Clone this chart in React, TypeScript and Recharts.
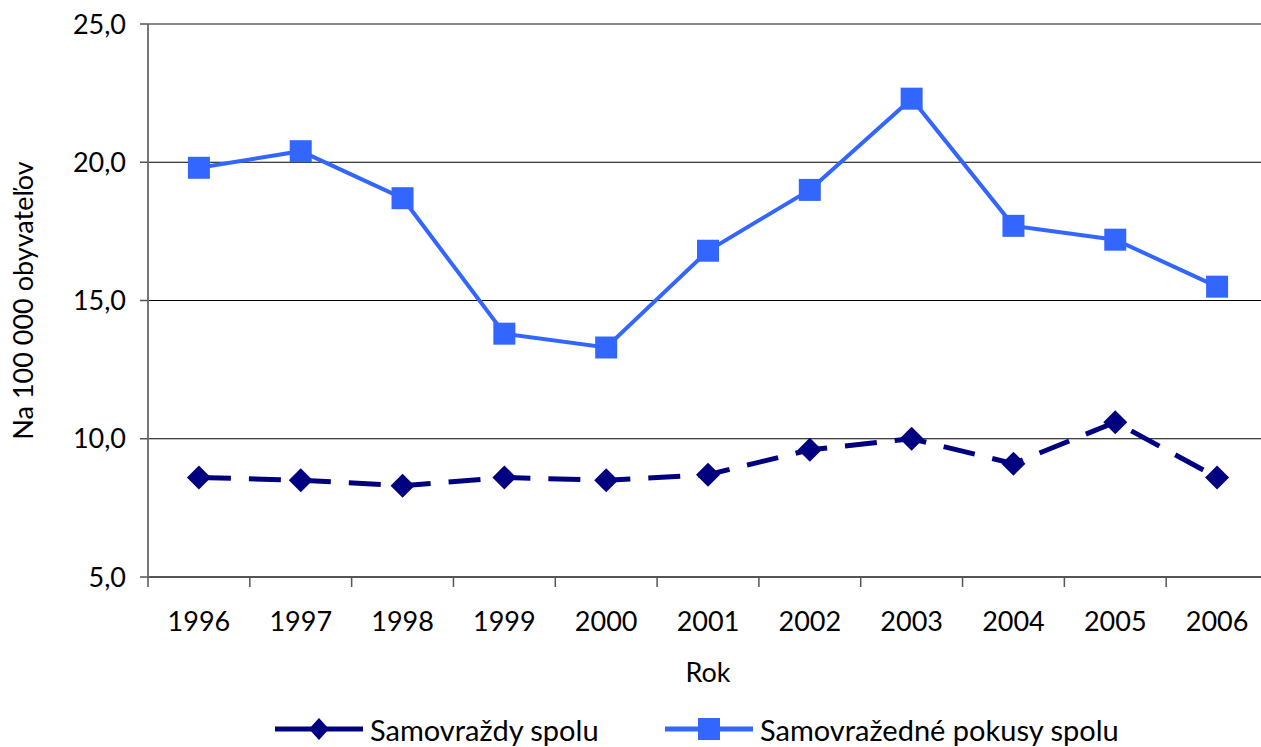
import React from 'react';
import {
  LineChart, Line, XAxis, YAxis, CartesianGrid, ReferenceLine,
} from 'recharts';

const years = ['1996', '1997', '1998', '1999', '2000', '2001', '2002', '2003', '2004', '2005', '2006'];
const suicides = [8.6, 8.5, 8.3, 8.6, 8.5, 8.7, 9.6, 10.0, 9.1, 10.6, 8.6];
const attempts = [19.8, 20.4, 18.7, 13.8, 13.3, 16.8, 19.0, 22.3, 17.7, 17.2, 15.5];
const yTicks = [5, 10, 15, 20, 25];

const data = years.map((year, i) => ({ year, suicides: suicides[i], attempts: attempts[i] }));

const NAVY = '#000080';
const BLUE = '#3366ff';
const FONT = 'Lato, "Open Sans", sans-serif';

const CHART_W = 1270;
const MARGIN = { top: 24, right: 2, left: 0, bottom: 60 };
const Y_AXIS_W = 148;
const STEP = (CHART_W - MARGIN.left - MARGIN.right - Y_AXIS_W) / years.length;

const fmt = (v: number) => v.toFixed(1).replace('.', ',');

function Diamond(props: any) {
  const { cx, cy } = props;
  if (cx == null || cy == null) return null;
  const r = 12;
  return <polygon points={`${cx},${cy - r} ${cx + r},${cy} ${cx},${cy + r} ${cx - r},${cy}`} fill={NAVY} />;
}

function Square(props: any) {
  const { cx, cy } = props;
  if (cx == null || cy == null) return null;
  return <rect x={cx - 11} y={cy - 11} width={22} height={22} fill={BLUE} />;
}

function XTick(props: any) {
  const { x, y, payload, index } = props;
  const last = index === years.length - 1;
  return (
    <g>
      <line x1={x - STEP / 2} x2={x - STEP / 2} y1={y} y2={y + 10} stroke="#555" strokeWidth={1.5} />
      {last && <line x1={x + STEP / 2} x2={x + STEP / 2} y1={y} y2={y + 10} stroke="#555" strokeWidth={1.5} />}
      <text x={x} y={y + 54} textAnchor="middle" fontSize={27} fill="#000" style={{ fontFamily: FONT }}>
        {payload.value}
      </text>
    </g>
  );
}

function YTitle(props: any) {
  const { viewBox } = props;
  const cy = viewBox.y + viewBox.height / 2;
  return (
    <text x={22} y={cy} transform={`rotate(-90, 22, ${cy})`} textAnchor="middle" dominantBaseline="central"
      fontSize={27} fill="#000" style={{ fontFamily: FONT }}>
      Na 100 000 obyvateľov
    </text>
  );
}

function XTitle(props: any) {
  const { viewBox } = props;
  const cx = viewBox.x + viewBox.width / 2;
  return (
    <text x={cx} y={viewBox.y + 94} textAnchor="middle" dominantBaseline="central"
      fontSize={27} fill="#000" style={{ fontFamily: FONT }}>
      Rok
    </text>
  );
}

const legendItems = [
  { name: 'Samovraždy spolu', color: NAVY, shape: 'diamond', left: 275 },
  { name: 'Samovražedné pokusy spolu', color: BLUE, shape: 'square', left: 665 },
];

function LegendOverlay() {
  return (
    <div style={{ position: 'absolute', top: 712, left: 0, width: 1261, height: 34 }}>
      {legendItems.map((it) => (
        <div key={it.name} style={{ position: 'absolute', left: it.left, top: 0, display: 'flex', alignItems: 'center', height: 34 }}>
          <svg width={88} height={34}>
            <line x1={0} x2={88} y1={17} y2={17} stroke={it.color} strokeWidth={5} />
            {it.shape === 'diamond'
              ? <polygon points="44,6 54,17 44,28 34,17" fill={it.color} />
              : <rect x={33} y={6} width={22} height={22} fill={it.color} />}
          </svg>
          <span style={{ marginLeft: 7, fontSize: 29, fontFamily: FONT, color: '#000', whiteSpace: 'nowrap' }}>
            {it.name}
          </span>
        </div>
      ))}
    </div>
  );
}

export default function App() {
  return (
    <div style={{ position: 'fixed', left: 0, top: 0, width: 1261, height: 747, overflow: 'hidden', background: '#fff' }}>
      <LineChart width={CHART_W} height={747} data={data} margin={MARGIN}>
        <CartesianGrid vertical={false} stroke="#000" strokeWidth={1} />
        <XAxis
          dataKey="year"
          height={110}
          padding={{ left: STEP / 2, right: STEP / 2 }}
          tickLine={false}
          tickSize={0}
          tickMargin={0}
          axisLine={{ stroke: '#555', strokeWidth: 2 }}
          tick={<XTick />}
          interval={0}
          label={<XTitle />}
        />
        <YAxis
          width={Y_AXIS_W}
          domain={[5, 25]}
          ticks={yTicks}
          tickFormatter={fmt}
          tickSize={8}
          tickMargin={14}
          tickLine={{ stroke: '#555', strokeWidth: 1.5 }}
          axisLine={{ stroke: '#777', strokeWidth: 2 }}
          tick={{ fontSize: 27, fill: '#000', fontFamily: FONT } as any}
          label={<YTitle />}
        />
        <ReferenceLine y={25} stroke="#888" strokeWidth={2} />
        <Line
          dataKey="suicides"
          stroke={NAVY}
          strokeWidth={5}
          strokeDasharray="32 18"
          dot={<Diamond />}
          activeDot={false}
          isAnimationActive={false}
          type="linear"
        />
        <Line
          dataKey="attempts"
          stroke={BLUE}
          strokeWidth={4}
          dot={<Square />}
          activeDot={false}
          isAnimationActive={false}
          type="linear"
        />
      </LineChart>
      <LegendOverlay />
    </div>
  );
}
